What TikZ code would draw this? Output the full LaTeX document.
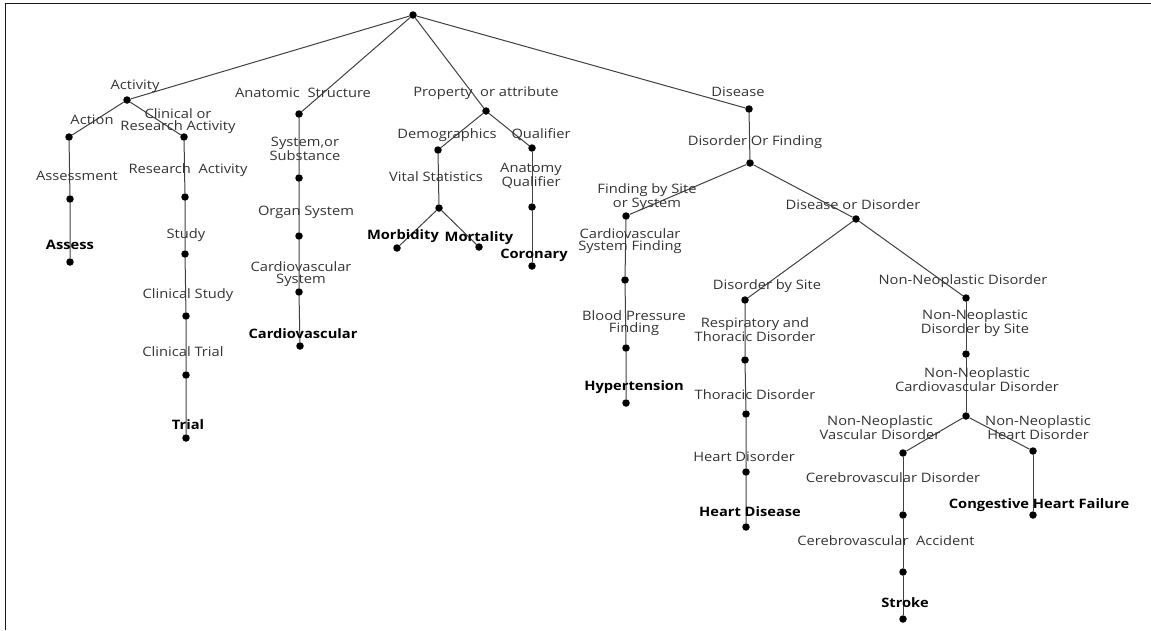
\documentclass[tikz,border=0pt]{standalone}
\usepackage{fontspec}
\setmainfont[FakeStretch=1.13]{Open Sans}
\begin{document}
\begin{tikzpicture}[x=1pt,y=-1pt,
  dot/.style={circle, fill=black, inner sep=0pt, minimum size=7.5pt},
  lbl/.style={text=black!80, font=\fontsize{13}{11.5}\selectfont, align=center, inner sep=0pt},
  blbl/.style={lbl, text=black, font=\fontsize{13}{11.5}\selectfont\bfseries},
  link/.style={draw=black!75, line width=1pt},
  frame/.style={draw=black!90, line width=1.6pt}]
\useasboundingbox (0,0) rectangle (1151,630);
\coordinate (fa) at (5.5,630);
\coordinate (fb) at (5.5,3.5);
\coordinate (fc) at (1151,3.5);
\draw[frame] (fa) -- (fb) -- (fc);
% dots
\node[dot] (r) at (413,15) {};
\node[dot] (act) at (127,100) {};
\node[dot] (action) at (69,137) {};
\node[dot] (clin) at (184,137) {};
\node[dot] (assessA) at (70,199) {};
\node[dot] (assessB) at (70,262) {};
\node[dot] (ra) at (185,197) {};
\node[dot] (study) at (185,254) {};
\node[dot] (cs) at (186,316) {};
\node[dot] (ct) at (186,375) {};
\node[dot] (trial) at (186,438) {};
\node[dot] (anat) at (299,114) {};
\node[dot] (sys) at (299,178) {};
\node[dot] (org) at (299,236) {};
\node[dot] (cvs) at (299,292) {};
\node[dot] (cv) at (300,346) {};
\node[dot] (prop) at (486,111) {};
\node[dot] (demo) at (438,150) {};
\node[dot] (qual) at (532,148) {};
\node[dot] (vital) at (439,208) {};
\node[dot] (anq) at (532,207) {};
\node[dot] (morb) at (397,248) {};
\node[dot] (mort) at (479,247) {};
\node[dot] (cor) at (532,266) {};
\node[dot] (dis) at (749,109) {};
\node[dot] (dof) at (750,163) {};
\node[dot] (fbs) at (626,216) {};
\node[dot] (dod) at (856,219) {};
\node[dot] (csf) at (625,280) {};
\node[dot] (bpf) at (626,348) {};
\node[dot] (hyp) at (626,403) {};
\node[dot] (dbs) at (745,300) {};
\node[dot] (nnd) at (966,298) {};
\node[dot] (rtd) at (745,360) {};
\node[dot] (td) at (746,414) {};
\node[dot] (hd) at (746,472) {};
\node[dot] (hdis) at (746,527) {};
\node[dot] (nnds) at (966,354) {};
\node[dot] (nncd) at (966,416) {};
\node[dot] (nnvd) at (903,453) {};
\node[dot] (nnhd) at (1033,451) {};
\node[dot] (cbd) at (903,515) {};
\node[dot] (chf) at (1033,515) {};
\node[dot] (cba) at (903,572) {};
\node[dot] (stroke) at (903,619) {};
% links
\draw[link] (r) -- (act);
\draw[link] (r) -- (anat);
\draw[link] (r) -- (prop);
\draw[link] (r) -- (dis);
\draw[link] (act) -- (action);
\draw[link] (act) -- (clin);
\draw[link] (action) -- (assessA) -- (assessB);
\draw[link] (clin) -- (ra) -- (study) -- (cs) -- (ct) -- (trial);
\draw[link] (anat) -- (sys) -- (org) -- (cvs) -- (cv);
\draw[link] (prop) -- (demo);
\draw[link] (prop) -- (qual);
\draw[link] (demo) -- (vital);
\draw[link] (vital) -- (morb);
\draw[link] (vital) -- (mort);
\draw[link] (qual) -- (anq) -- (cor);
\draw[link] (dis) -- (dof);
\draw[link] (dof) -- (fbs);
\draw[link] (dof) -- (dod);
\draw[link] (fbs) -- (csf) -- (bpf) -- (hyp);
\draw[link] (dod) -- (dbs);
\draw[link] (dod) -- (nnd);
\draw[link] (dbs) -- (rtd) -- (td) -- (hd) -- (hdis);
\draw[link] (nnd) -- (nnds) -- (nncd);
\draw[link] (nncd) -- (nnvd);
\draw[link] (nncd) -- (nnhd);
\draw[link] (nnvd) -- (cbd) -- (cba) -- (stroke);
\draw[link] (nnhd) -- (chf);
% labels
\node[lbl] (t-act) at (135,86) {Activity};
\node[lbl] (t-action) at (92,120) {Action};
\node[lbl] (t-clin) at (178,121) {Clinical or\\Research Activity};
\node[lbl] (t-assessA) at (77,176) {Assessment};
\node[blbl] (t-assessB) at (70,245) {Assess};
\node[lbl] (t-ra) at (188,170) {Research\ \ Activity};
\node[lbl] (t-study) at (186,235) {Study};
\node[lbl] (t-cs) at (188,295) {Clinical Study};
\node[lbl] (t-ct) at (183,352) {Clinical Trial};
\node[blbl] (t-trial) at (188,425) {Trial};
\node[lbl] (t-anat) at (303,93) {Anatomic\ \ Structure};
\node[lbl] (t-sys) at (305,149) {System,or\\Substance};
\node[lbl] (t-org) at (306,212) {Organ System};
\node[lbl] (t-cvs) at (301,274) {Cardiovascular\\System};
\node[blbl] (t-cv) at (303,334) {Cardiovascular};
\node[lbl] (t-prop) at (486,93) {Property\ \ or attribute};
\node[lbl] (t-demo) at (447,135) {Demographics};
\node[lbl] (t-qual) at (541,135) {Qualifier};
\node[lbl] (t-vital) at (436,177) {Vital Statistics};
\node[lbl] (t-anq) at (531,176) {Anatomy\\Qualifier};
\node[blbl] (t-morb) at (403,236) {Morbidity};
\node[blbl] (t-mort) at (479,238) {Mortality};
\node[blbl] (t-cor) at (534,255) {Coronary};
\node[lbl] (t-dis) at (738,92) {Disease};
\node[lbl] (t-dof) at (755,142) {Disorder Or Finding};
\node[lbl] (t-fbs) at (647,197) {Finding by Site\\or System};
\node[lbl] (t-dod) at (853,205) {Disease or Disorder};
\node[lbl] (t-csf) at (630,241) {Cardiovascular\\System Finding};
\node[lbl] (t-bpf) at (634,323) {Blood Pressure\\Finding};
\node[blbl] (t-hyp) at (634,387) {Hypertension};
\node[lbl] (t-dbs) at (767,286) {Disorder by Site};
\node[lbl] (t-nnd) at (963,281) {Non-Neoplastic Disorder};
\node[lbl] (t-rtd) at (755,330) {Respiratory and\\Thoracic Disorder};
\node[lbl] (t-td) at (755,395) {Thoracic Disorder};
\node[lbl] (t-hd) at (744,457) {Heart Disorder};
\node[blbl] (t-hdis) at (750,512) {Heart Disease};
\node[lbl] (t-nnds) at (975,323) {Non-Neoplastic\\Disorder by Site};
\node[lbl] (t-nncd) at (977,380) {Non-Neoplastic\\Cardiovascular Disorder};
\node[lbl] (t-nnvd) at (880,428) {Non-Neoplastic\\Vascular Disorder};
\node[lbl] (t-nnhd) at (1038,428) {Non-Neoplastic\\Heart Disorder};
\node[lbl] (t-cbd) at (893,478) {Cerebrovascular Disorder};
\node[blbl] (t-chf) at (1039,505) {Congestive Heart Failure};
\node[lbl] (t-cba) at (886,541) {Cerebrovascular\ \ Accident};
\node[blbl] (t-stroke) at (905,603) {Stroke};
\end{tikzpicture}
\end{document}
